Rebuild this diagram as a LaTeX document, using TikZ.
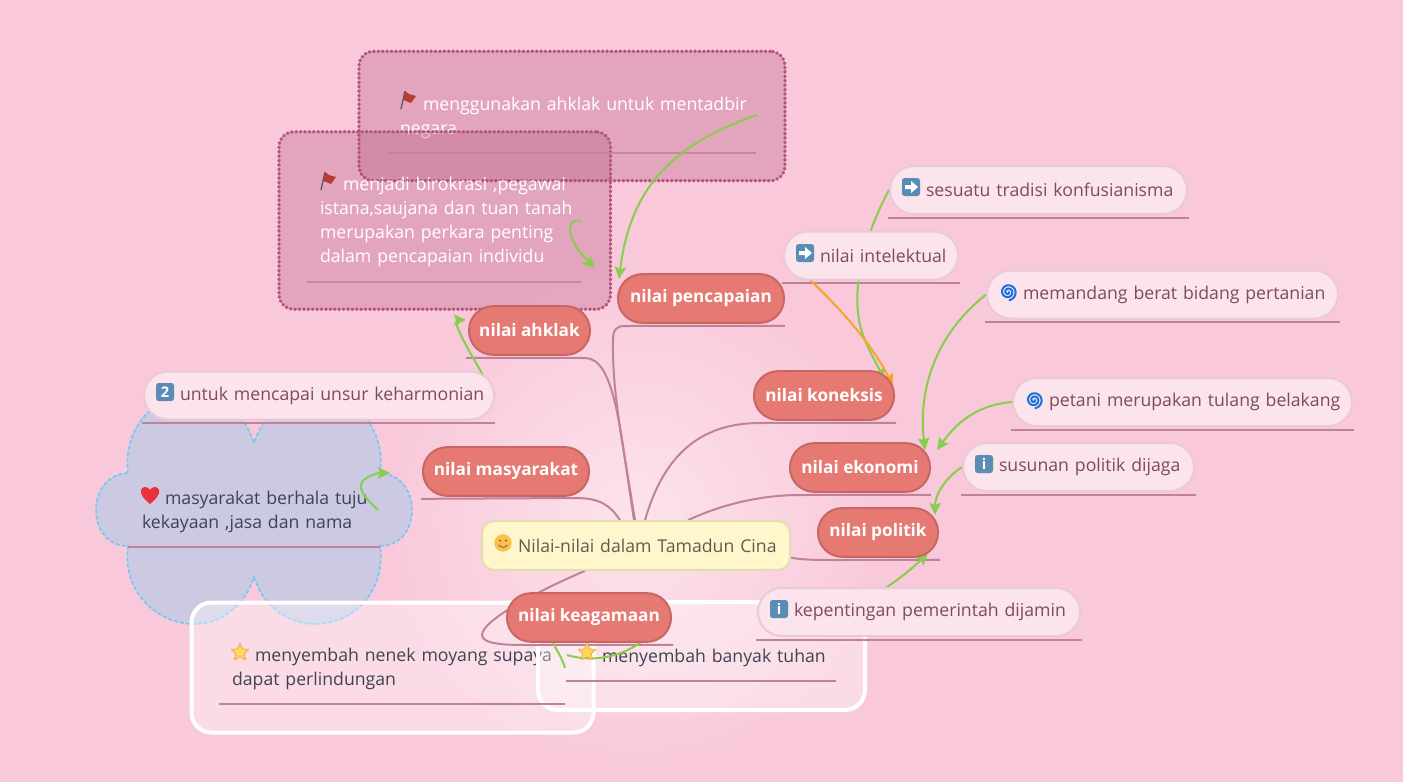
\documentclass[tikz,border=0pt]{standalone}
\usepackage{fontspec}
\setmainfont{Open Sans}
\usetikzlibrary{arrows.meta,calc,shapes.misc}
\definecolor{bgc}{HTML}{F9C8DA}
\definecolor{linec}{HTML}{C0829B}
\definecolor{greenc}{HTML}{86CF4A}
\definecolor{orangec}{HTML}{F5A623}
\definecolor{mainf}{HTML}{E67A72}
\definecolor{maind}{HTML}{C76663}
\definecolor{leaff}{HTML}{FBE4EC}
\definecolor{leafd}{HTML}{EBC9D6}
\definecolor{leaft}{HTML}{7D4A62}
\definecolor{boxt}{HTML}{3F4452}
\definecolor{darkf}{HTML}{AB4A72}
\definecolor{darkd}{HTML}{B5557C}
\definecolor{iconb}{HTML}{5A8DB5}
\definecolor{rootd}{HTML}{E3DDB0}
\definecolor{rootf}{HTML}{FFF6CC}
\definecolor{roott}{HTML}{5E5E50}
\definecolor{cloudf}{HTML}{CCC9E3}
\definecolor{cloudd}{HTML}{6FCBF5}
\definecolor{starf}{HTML}{FFD75E}
\definecolor{stard}{HTML}{F5A93C}
\definecolor{heartf}{HTML}{E8323C}
\definecolor{flagf}{HTML}{B83A38}
\definecolor{spiralc}{HTML}{1A6FE0}
\definecolor{smilef}{HTML}{FBC04A}
\pgfdeclarelayer{under}\pgfdeclarelayer{conn}
\pgfsetlayers{under,conn,main}
\newcommand\lft[2]{\mbox{\hspace*{#1pt}#2}}
\newcommand\firstln{\rule{0pt}{12.8pt}}
\tikzset{
  every node/.style={font=\fontsize{13.25pt}{18pt}\selectfont},
  pillmain/.style={draw=maind,line width=1.5pt,fill=mainf,text=white,rounded corners=18pt,inner sep=0pt,
    font=\fontsize{12.9pt}{18pt}\selectfont\bfseries,minimum height=36.5pt},
  leaf/.style={draw=leafd,line width=1.5pt,fill=leaff,text=leaft,rounded corners=18pt,inner xsep=0pt,inner ysep=0pt,
    minimum height=36pt,align=left},
  darkbox/.style={draw=darkd,fill=darkf,fill opacity=.27,draw opacity=1,text opacity=1,text=white,line width=2.4pt,
    dash pattern=on 0.6pt off 2.7pt,line cap=round,rounded corners=11pt,inner xsep=0pt,inner ysep=0pt,align=left},
  whitebox/.style={draw=white,fill=white,fill opacity=.35,draw opacity=1,text opacity=1,text=boxt,line width=3pt,
    rounded corners=15pt,inner xsep=0pt,inner ysep=0pt,align=left},
  trunk/.style={draw=linec,line width=1.5pt},
  uline/.style={draw=linec,line width=1.5pt},
  gr/.style={draw=greenc,line width=1.5pt,-{Stealth[length=9pt,width=8.5pt,inset=1.5pt]}},
  orc/.style={draw=orangec,line width=1.5pt,-{Stealth[length=9pt,width=8.5pt,inset=1.5pt]}},
  icotext/.style={text=white,inner sep=0pt,font=\fontsize{11pt}{11pt}\selectfont\bfseries},
  pics/arrowico/.style={code={
    \fill[iconb,rounded corners=2pt] (-9,-9) rectangle (9,9);
    \fill[white] (-6,-2) -- (0,-2) -- (0,-6) -- (7,0) -- (0,6) -- (0,2) -- (-6,2) -- cycle;}},
  pics/squareico/.style={code={
    \fill[iconb,rounded corners=2pt] (-9,-9) rectangle (9,9);}},
  pics/spiralico/.style={code={
    \draw[draw=spiralc,line width=1.5pt,line cap=round]
      plot[domain=0:800,samples=60,smooth] ({(1+\x/110)*cos(\x)},{(1+\x/110)*sin(\x)});}},
  pics/flagico/.style={code={
    \draw[draw=gray!70!black,line width=1pt] (-7,9) -- (-3,-9);
    \fill[flagf] (-3,-9) -- (1,-6) -- (8,-4) -- (3,3) -- (-4.5,0) -- cycle;}},
  pics/heartico/.style={code={
    \fill[heartf] (0,9) .. controls (-7,3) and (-10,-1) .. (-9,-5) .. controls (-8,-9) and (-2,-9) .. (0,-5)
      .. controls (2,-9) and (8,-9) .. (9,-5) .. controls (10,-1) and (7,3) .. (0,9) -- cycle;}},
  pics/starico/.style={code={
    \fill[starf,draw=stard,line width=.6pt,rounded corners=.6pt]
      (0,-9) -- (2.6,-3) -- (9,-2.6) -- (4.2,1.6) -- (5.8,8) -- (0,4.6) -- (-5.8,8) -- (-4.2,1.6) -- (-9,-2.6) -- (-2.6,-3) -- cycle;}},
  pics/smileico/.style={code={
    \fill[smilef] (0,0) circle[radius=8.7];
    \fill[black!70] (-3,-2.4) circle[radius=1.1] (3,-2.4) circle[radius=1.1];
    \draw[black!65,line width=.6pt] (-4.4,2) .. controls (-2,5) and (2,5) .. (4.4,2);}},
}
\begin{document}
\begin{tikzpicture}[x=0.75pt,y=-0.75pt]
\useasboundingbox (0,0) rectangle (1403,782);
\node[rounded corners=9pt,draw=rootd,line width=1.5pt,fill=rootf,text=roott,text width=231pt,inner xsep=0pt,minimum height=36.5pt,inner ysep=0pt,align=left] (root) at (636,545.5) {\lft{27}{Nilai-nilai dalam Tamadun Cina}};
\node[pillmain,minimum width=124.5pt] (pencapaian) at (701,298.5) {nilai pencapaian};
\node[pillmain,minimum width=90.7pt] (ahklak) at (529.5,330.5) {nilai ahklak};
\node[pillmain,minimum width=105pt] (koneksis) at (824,395.5) {nilai koneksis};
\node[pillmain,minimum width=105pt] (ekonomi) at (860,467.5) {nilai ekonomi};
\node[pillmain,minimum width=90pt] (politik) at (878,532.5) {nilai politik};
\node[pillmain,minimum width=124.5pt] (masyarakat) at (506,471.5) {nilai masyarakat};
\node[pillmain,minimum width=123pt] (keagamaan) at (589,617.5) {nilai keagamaan};
\node[leaf,text width=222.75pt] (sesuatu) at (1038.5,190) {\lft{27}{sesuatu tradisi konfusianisma}};
\node[leaf,text width=130.5pt] (intelektual) at (871,255.5) {\lft{27}{nilai intelektual}};
\node[leaf,text width=263.25pt] (memandang) at (1162.5,294.5) {\lft{27}{memandang berat bidang pertanian}};
\node[leaf,text width=254.25pt] (petani) at (1182.5,402) {\lft{27}{petani merupakan tulang belakang}};
\node[leaf,text width=173.25pt] (susunan) at (1078.5,467) {\lft{27}{susunan politik dijaga}};
\node[leaf,text width=241.5pt] (kepentingan) at (919,612) {\lft{27}{kepentingan pemerintah dijamin}};
\node[leaf,text width=262.5pt] (untuk) at (319,395.5) {\lft{27}{untuk mencapai unsur keharmonian}};
\begin{pgfonlayer}{under}
\fill[bgc] (0,0) rectangle (1403,782);
\foreach \rr in {258,254,...,2} {
  \pgfmathsetmacro\pp{50*(1-\rr/260)}
  \fill[white!\pp!bgc] (636,520) circle[radius=\rr];
}
\path[fill=cloudf,draw=cloudd,line width=1.2pt,dash pattern=on 3pt off 1.5pt]
  (128,473) .. controls (108,474) and (96,490) .. (96,510) .. controls (96,530) and (108,546) .. (128,546)
  .. controls (122,590) and (155,624) .. (195,624) .. controls (222,624) and (245,605) .. (254,577)
  .. controls (263,605) and (286,624) .. (315,624) .. controls (355,624) and (386,590) .. (380,546)
  .. controls (400,546) and (412,530) .. (412,510) .. controls (412,490) and (400,474) .. (380,473)
  .. controls (386,430) and (355,392) .. (315,392) .. controls (286,392) and (263,415) .. (254,443)
  .. controls (245,415) and (222,392) .. (195,392) .. controls (155,392) and (122,430) .. (128,473) -- cycle;
\node[text=boxt,text width=189pt,inner xsep=0pt,align=left] (cloud) at (254,510) {\firstln\hspace*{10.5pt}\lft{17.25}{masyarakat berhala tuju}\\\hspace*{10.5pt}kekayaan ,jasa dan nama};
\node[whitebox,text width=301.5pt,minimum height=97.5pt] (boxA) at (392.5,667.5) {\firstln\hspace*{30.4pt}\lft{17.25}{menyembah nenek moyang supaya}\\\hspace*{30.4pt}dapat perlindungan};
\node[whitebox,text width=245.25pt,minimum height=81pt] (boxB) at (701.5,656) {\firstln\lft{48}{menyembah banyak tuhan}};
\node[darkbox,text width=319.5pt,minimum height=97pt] (dark1) at (572,116) {\firstln\hspace*{30.75pt}\lft{17.25}{menggunakan ahklak untuk mentadbir}\\\hspace*{30.75pt}negara};
\node[darkbox,text width=248.6pt,minimum height=133pt] (dark2) at (444.75,220.5) {\firstln\hspace*{30.75pt}\lft{17.25}{menjadi birokrasi ,pegawai}\\\hspace*{30.75pt}istana,saujana dan tuan tanah\\\hspace*{30.75pt}merupakan perkara penting\\\hspace*{30.75pt}dalam pencapaian individu};
\end{pgfonlayer}
\begin{pgfonlayer}{conn}
\draw[trunk] ($(root.north)+(-1,0)$) .. controls (622,440) and (612,390) .. (613,340) .. controls (613,330) and (616,326) .. (625,326) -- ($(pencapaian.south east)+(0,2)$);
\draw[trunk] ($(ahklak.south west)+(-2,2)$) -- (585,358) .. controls (615,358) and (620,430) .. ($(root.north)+(-2,0)$);
\draw[trunk] ($(root.north)+(9,0)$) .. controls (665,450) and (705,423) .. (760,423) -- ($(koneksis.south east)+(1,2)$);
\draw[trunk] ($(root.north)+(52,0)$) .. controls (720,505) and (760,495) .. (800,495) -- ($(ekonomi.south east)+(0,2)$);
\draw[trunk] ($(root.east)+(0,12)$) .. controls (800,560) and (820,560) .. (840,560) -- ($(politik.south east)+(1,2)$);
\draw[trunk] ($(root.north)+(-16,0)$) .. controls (610,505) and (600,498) .. (575,498) -- ($(masyarakat.south west)+(-1,2)$);
\draw[trunk] ($(root.south)+(-51,0)$) .. controls (540,590) and (482,620) .. (482,635) .. controls (482,645) and (510,645) .. (530,645) -- ($(keagamaan.south east)+(1,2)$);
\draw[uline] ($(sesuatu.south west)+(-1,3)$) -- ($(sesuatu.south east)+(1,3)$);
\draw[uline] ($(intelektual.south west)+(-1,2)$) -- ($(intelektual.south east)+(1,2)$);
\draw[uline] ($(memandang.south west)+(-1,2)$) -- ($(memandang.south east)+(1,2)$);
\draw[uline] ($(petani.south west)+(-1,3)$) -- ($(petani.south east)+(1,3)$);
\draw[uline] ($(susunan.south west)+(-1,3)$) -- ($(susunan.south east)+(1,3)$);
\draw[uline] ($(kepentingan.south west)+(-1,3)$) -- ($(kepentingan.south east)+(1,3)$);
\draw[uline] ($(untuk.south west)+(-1,2)$) -- ($(untuk.south east)+(0,2)$);
\coordinate (ulcloud1) at (128,547); \coordinate (ulcloud2) at (380,547);
\draw[uline] (ulcloud1) -- (ulcloud2);
\coordinate (ulA1) at (219,704); \coordinate (ulA2) at (565,704);
\draw[uline] (ulA1) -- (ulA2);
\coordinate (ulB1) at (566,681); \coordinate (ulB2) at (836,681);
\draw[uline] (ulB1) -- (ulB2);
\coordinate (ul11) at (388,153); \coordinate (ul12) at (756,153);
\draw[uline,opacity=.8] (ul11) -- (ul12);
\coordinate (ul21) at (307,282); \coordinate (ul22) at (581,282);
\draw[uline,opacity=.8] (ul21) -- (ul22);
\coordinate (g1) at (757,115);
\coordinate (g2) at (581,221);
\coordinate (g3) at (378,510);
\coordinate (g4) at (567,655);
\coordinate (g5) at (565,668);
\draw[gr] (g1) .. controls (670,145) and (630,190) .. (619,279);
\draw[gr] (g2) .. controls (572,218) and (568,226) .. (571,235) .. controls (575,248) and (585,258) .. (595,268);
\draw[gr] (untuk.east) .. controls (480,370) and (462,340) .. (457,326) .. controls (456,322) and (460,320) .. (466,320);
\draw[gr] (g3) .. controls (365,498) and (358,490) .. (362,482) .. controls (366,476) and (378,473) .. (390,473);
\draw[gr] (sesuatu.west) .. controls (870,225) and (850,280) .. (860,325) .. controls (865,345) and (875,360) .. (884,380);
\draw[orc] (intelektual.west) .. controls (790,262) and (860,320) .. (893,386);
\draw[gr] (memandang.west) .. controls (935,335) and (918,390) .. (925,450);
\draw[gr] (petani.west) .. controls (975,405) and (955,425) .. (937,450);
\draw[gr] (susunan.west) .. controls (945,478) and (935,495) .. (935,515);
\draw[gr] (kepentingan.west) .. controls (800,640) and (880,600) .. (928,553);
\draw[gr] (g4) .. controls (590,662) and (625,660) .. (660,625);
\draw[draw=greenc,line width=1.5pt] (g5) .. controls (562,657) and (556,650) .. (552,640);
\end{pgfonlayer}
\pic at (503,543) {smileico};
\pic at (408,100) {flagico};
\pic at (328,181) {flagico};
\pic at (911,187) {arrowico};
\pic at (805,253) {arrowico};
\pic at (1008,292) {spiralico};
\pic at (1034,400) {spiralico};
\pic at (984,464) {squareico};
\node[icotext] (infoA) at (984,464) {i};
\pic at (779,609) {squareico};
\node[icotext] (infoB) at (779,609) {i};
\pic at (165,392) {squareico};
\node[icotext] (keytwo) at (165,392) {2};
\pic at (150,495) {heartico};
\pic at (240,652) {starico};
\pic at (587,652) {starico};
\end{tikzpicture}
\end{document}
